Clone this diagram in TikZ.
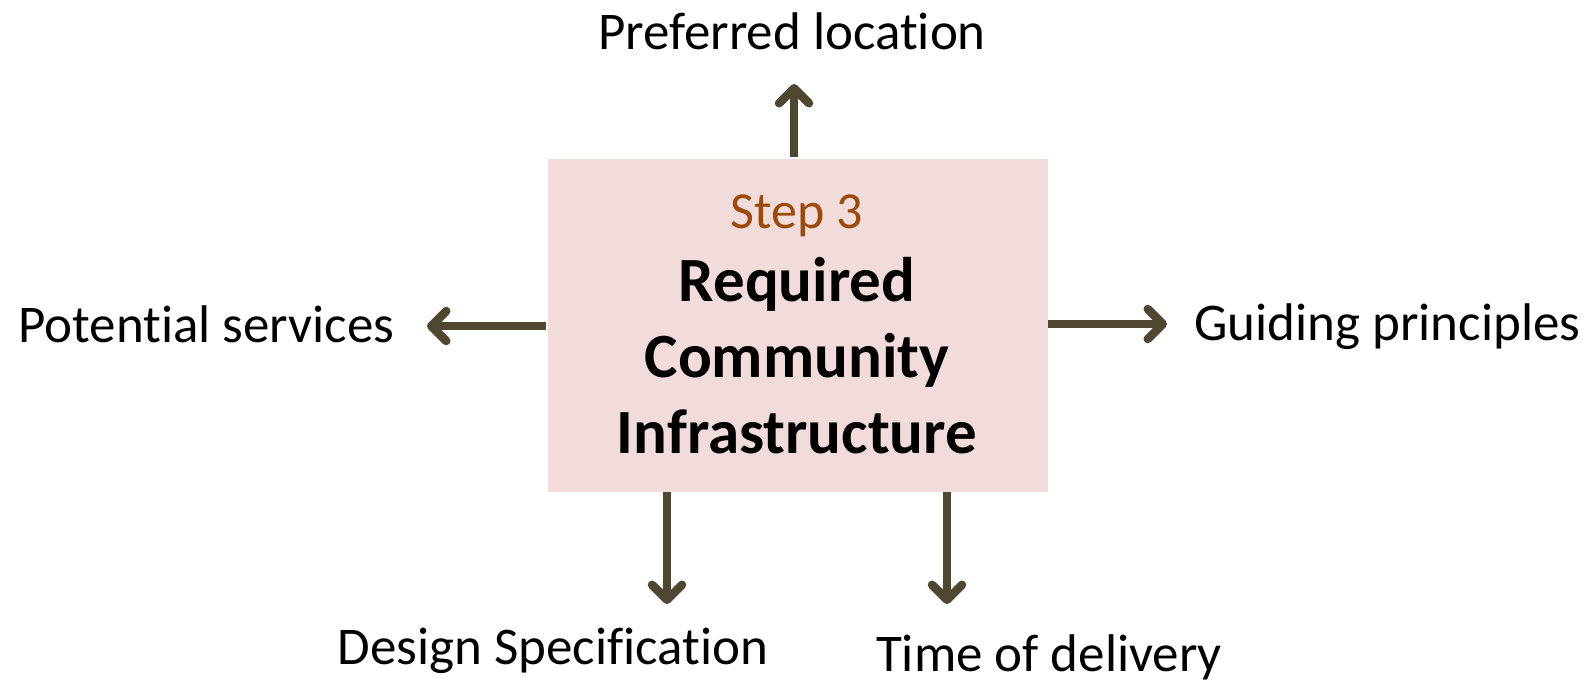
\documentclass[tikz,border=0pt]{standalone}
\usepackage{fontspec}
\setmainfont{Carlito}[Ligatures=NoCommon]
\usetikzlibrary{arrows.meta}
\definecolor{arrowcol}{HTML}{4F4731}
\definecolor{boxfill}{HTML}{F2DCDB}
\definecolor{stepcol}{HTML}{9C4A0C}
\tikzset{
  arr/.style={draw=arrowcol, line width=7.5pt, -{Straight Barb[length=15pt,width=30pt,line width=8.5pt 0,line join=round,line cap=round]}},
  lbl/.style={font=\fontsize{53}{64}\selectfont, inner sep=0pt, anchor=base},
}
\begin{document}
\begin{tikzpicture}[x=1pt,y=-1pt]
\useasboundingbox (0,0) rectangle (1596,683);
\node[fill=boxfill, minimum width=500pt, minimum height=333pt, inner sep=0pt, anchor=north west] (box) at (548,159) {};
\node[inner sep=0pt, anchor=base, text=stepcol, font=\fontsize{52}{60}\selectfont] (step) at (797,228) {Step 3};
\node[inner sep=0pt, anchor=base, font=\fontsize{63}{76}\selectfont\bfseries, align=center] (title) at (797,453) {Required\\Community\\Infrastructure};
\node[lbl] (pref) at (792,49) {Preferred location};
\node[lbl, anchor=base west] (pot) at (18,342) {Potential services};
\node[lbl, anchor=base west] (guid) at (1194,340) {Guiding principles};
\node[lbl] (des) at (553,664) {Design Specification};
\node[lbl] (time) at (1049,671) {Time of delivery};
\coordinate (uS) at (794,157);
\coordinate (uE) at (794,84);
\coordinate (lS) at (546,326);
\coordinate (lE) at (427,326);
\coordinate (rS) at (1048,324);
\coordinate (rE) at (1167,324);
\coordinate (d1S) at (667,492);
\coordinate (d1E) at (667,604);
\coordinate (d2S) at (947,492);
\coordinate (d2E) at (947,604);
\draw[arr] (uS) -- (uE);
\draw[arr] (lS) -- (lE);
\draw[arr] (rS) -- (rE);
\draw[arr] (d1S) -- (d1E);
\draw[arr] (d2S) -- (d2E);
\end{tikzpicture}
\end{document}
